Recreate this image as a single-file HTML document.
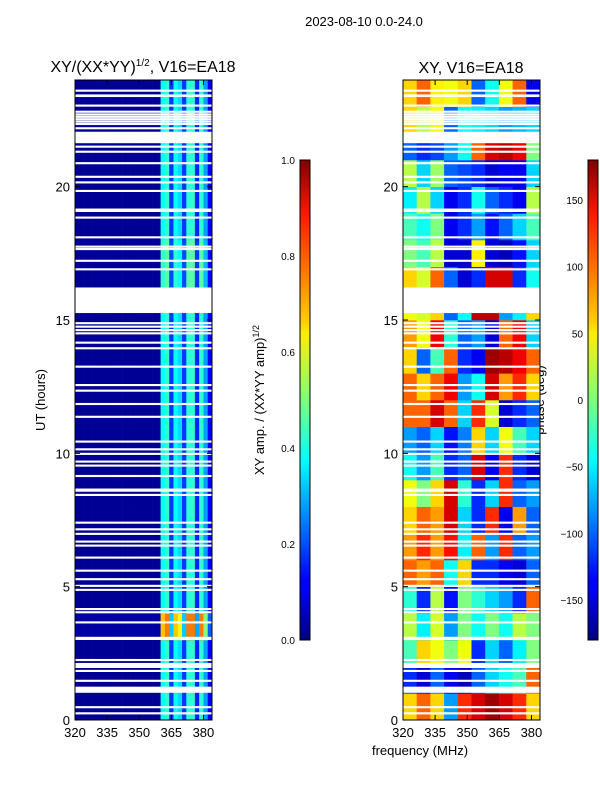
<!DOCTYPE html>
<html><head><meta charset="utf-8"><style>
body{margin:0;background:#fff;}
svg text{font-family:"Liberation Sans",sans-serif;fill:#000;}
</style></head><body>
<svg id="c" width="600" height="800" xmlns="http://www.w3.org/2000/svg">
<text x="364" y="26" font-size="13" text-anchor="middle">2023-08-10 0.0-24.0</text>
<text x="143" y="72" font-size="16" text-anchor="middle">XY/(XX*YY)<tspan font-size="10" dy="-6">1/2</tspan><tspan dy="6">, V16=EA18</tspan></text>
<text x="471" y="73" font-size="16" text-anchor="middle">XY, V16=EA18</text>
<text transform="translate(45,400) rotate(-90)" font-size="13" text-anchor="middle">UT (hours)</text>
<text transform="translate(264,400) rotate(-90)" font-size="13" text-anchor="middle">XY amp. / (XX*YY amp)<tspan font-size="9" dy="-5">1/2</tspan></text>
<text transform="translate(544,400) rotate(-90)" font-size="13" text-anchor="middle">phase (deg)</text>
<text x="420" y="755" font-size="13" text-anchor="middle">frequency (MHz)</text>
<defs>
<linearGradient id="jet" x1="0" y1="1" x2="0" y2="0">
<stop offset="0" stop-color="#00007f"/><stop offset="0.11" stop-color="#0000ff"/><stop offset="0.125" stop-color="#0000ff"/><stop offset="0.34" stop-color="#00dcff"/><stop offset="0.375" stop-color="#00ffff"/><stop offset="0.5" stop-color="#7dff7a"/><stop offset="0.64" stop-color="#ffee00"/><stop offset="0.66" stop-color="#ffd000"/><stop offset="0.89" stop-color="#ff1500"/><stop offset="1" stop-color="#7f0000"/>
</linearGradient>
</defs>
<g id="amp"></g>
<g id="ph"></g>
<g id="gaps"></g>
<g id="axes"></g>
<rect x="300" y="160" width="10" height="480" fill="url(#jet)" stroke="#000" stroke-width="1"/>
<rect x="588" y="160" width="10" height="480" fill="url(#jet)" stroke="#000" stroke-width="1"/>
</svg>
<script>
const ampColProfile=[0.02,0.02,0.02,0.02,0.02,0.02,0.02,0.02,0.02,0.02,0.02,0.02,0.02,0.02,0.02,0.02,0.02,0.02,0.02,0.02,0.38,0.42,0.18,0.38,0.34,0.18,0.42,0.42,0.16,0.42,0.28,0.12];
const ampHourFactor=[1,1,1,1.8,1,1,1,1,1,1,1,1,1,1,1,1,1.1,1.1,1,1,1,1,1,1];
const phaseGrid=[
[60,100,60,-80,120,150,170,150,120,60],
[-120,-150,-100,-140,-160,-100,-60,-40,-20,100],
[-20,60,40,0,40,-120,-60,-100,-50,0],
[20,-50,30,-80,0,-40,0,-40,20,0],
[-30,-120,20,-130,0,-30,-60,-80,-120,100],
[100,80,100,-40,60,-120,-120,-140,-150,-100],
[80,120,80,130,-50,100,-80,120,-100,-80],
[60,100,80,150,-60,-120,120,-140,80,-100],
[40,0,60,150,-30,-120,-60,120,-100,-80],
[-40,-80,-20,-120,-100,150,-140,120,-120,-150],
[-80,-100,-60,-130,-90,60,-60,40,-20,-60],
[100,100,150,100,-60,120,30,-150,-120,-100],
[100,60,100,140,-80,-40,150,80,120,60],
[60,-100,-20,100,-120,-140,170,160,140,100],
[80,40,140,-30,-100,-80,-150,100,140,-60],
[40,30,60,-100,-40,160,160,-80,-50,60],
[60,30,100,-100,-150,-120,150,150,-120,-40],
[0,-20,20,-150,-150,50,-150,-160,-130,-60],
[-20,-40,0,-140,-120,-80,-130,-100,-60,-20],
[-50,20,-60,-140,-120,-40,-100,-120,-140,20],
[20,-60,10,-100,-110,-120,-150,-140,-140,-60],
[-100,-120,-110,-80,-40,100,150,160,140,0],
[60,20,40,-100,-40,-50,-60,-80,-70,-60],
[60,100,50,40,60,-100,-40,40,100,-140]];
const gapStart=[23.56,23.36,23.0,22.77,22.67,22.58,22.49,22.40,22.31,22.15,21.63,21.46,21.27,20.84,20.33,20.12,19.80,19.05,18.80,18.06,17.71,17.62,17.18,16.86,15.26,14.84,14.71,14.58,14.46,14.11,13.90,13.21,12.52,12.31,11.81,11.33,10.40,10.11,9.94,9.65,9.50,9.11,8.56,8.40,7.36,7.11,6.94,6.65,6.50,6.05,5.56,5.24,4.99,4.84,4.12,4.0,3.62,3.0,2.21,1.95,1.80,1.43,1.02,0.44,0.21];
const gapEnd=[23.64,23.46,23.08,22.85,22.75,22.66,22.57,22.48,22.39,22.23,22.06,21.54,21.35,20.92,20.41,20.20,19.88,19.18,18.88,18.14,17.79,17.70,17.26,16.94,16.22,14.92,14.79,14.66,14.54,14.19,13.98,13.29,12.60,12.39,11.89,11.41,10.48,10.19,10.02,9.73,9.58,9.19,8.68,8.48,7.44,7.19,7.02,6.73,6.58,6.13,5.64,5.32,5.07,4.92,4.20,4.08,3.70,3.12,2.29,2.14,1.88,1.51,1.25,0.52,0.29];
const yTicks=[0,5,10,15,20];
const xTicks=[320,335,350,365,380];
const ampTicks=[0.0,0.2,0.4,0.6,0.8,1.0];
const phTicks=[-150,-100,-50,0,50,100,150];

const NS='http://www.w3.org/2000/svg';
const Y0=720,Y1=80,FMIN=320,FMAX=384;
function yScale(h){return Y0-(h/24)*(Y0-Y1);}
function xScale(f,left){return left+(f-FMIN)/(FMAX-FMIN)*137;}
function jet(v){v=Math.max(0,Math.min(1,v));
 const r=Math.max(0,Math.min(1,1.5-Math.abs(4*v-3)));
 const g=Math.max(0,Math.min(1,1.5-Math.abs(4*v-2)));
 const b=Math.max(0,Math.min(1,1.5-Math.abs(4*v-1)));
 return `rgb(${Math.round(r*255)},${Math.round(g*255)},${Math.round(b*255)})`;}
function mk(tag,attrs,parent){const e=document.createElementNS(NS,tag);for(const k in attrs)e.setAttribute(k,attrs[k]);parent.appendChild(e);return e;}
const gA=document.getElementById('amp'),gP=document.getElementById('ph'),gG=document.getElementById('gaps'),gX=document.getElementById('axes');
const chW=(FMAX-FMIN)/ampColProfile.length;
for(let r=0;r<ampHourFactor.length;r++){
 for(let c=0;c<ampColProfile.length;c++){
  const x0=xScale(FMIN+c*chW,75),x1=xScale(FMIN+(c+1)*chW,75);
  const e=mk('rect',{x:x0,y:yScale(r+1),width:x1-x0+0.3,height:yScale(r)-yScale(r+1)+0.3,fill:jet(Math.min(1,ampColProfile[c]*ampHourFactor[r]))},gA);
  
  
 }}
const pW=(FMAX-FMIN)/phaseGrid[0].length;
for(let r=0;r<phaseGrid.length;r++){
 for(let c=0;c<phaseGrid[r].length;c++){
  const x0=xScale(FMIN+c*pW,403),x1=xScale(FMIN+(c+1)*pW,403);
  const e=mk('rect',{x:x0,y:yScale(r+1),width:x1-x0+0.3,height:yScale(r)-yScale(r+1)+0.3,fill:jet((phaseGrid[r][c]+180)/360)},gP);
  
  
 }}
for(let i=0;i<gapStart.length;i++){
 for(const L of [75,403]){
  const e=mk('rect',{x:L,y:yScale(gapEnd[i]),width:137,height:yScale(gapStart[i])-yScale(gapEnd[i]),fill:'#fff'},gG);
  
  
 }}
for(const L of [75,403]){
 const f=mk('rect',{x:L,y:Y1,width:137,height:Y0-Y1,fill:'none',stroke:'#000','stroke-width':1},gX);
 
 
 for(const t of yTicks){const y=yScale(t);
  mk('line',{x1:L,x2:L+5,y1:y,y2:y,stroke:'#000'},gX);
  mk('line',{x1:L+137,x2:L+132,y1:y,y2:y,stroke:'#000'},gX);
  const tx=mk('text',{x:L-5,y:y+5,'font-size':13,'text-anchor':'end'},gX);tx.textContent=t;
  
  }
 for(const t of xTicks){const x=xScale(t,L);
  mk('line',{x1:x,x2:x,y1:Y0,y2:Y0-5,stroke:'#000'},gX);
  mk('line',{x1:x,x2:x,y1:Y1,y2:Y1+5,stroke:'#000'},gX);
  const tx=mk('text',{x:x,y:Y0+17,'font-size':13,'text-anchor':'middle'},gX);tx.textContent=t;
  
  }
}
for(const t of ampTicks){const y=640-t*480;
 mk('line',{x1:300,x2:304,y1:y,y2:y,stroke:'#000'},gX);
 const tx=mk('text',{x:295,y:y+4,'font-size':10,'text-anchor':'end'},gX);tx.textContent=t.toFixed(1);
 
 }
for(const t of phTicks){const y=400-t*480/360;
 mk('line',{x1:588,x2:592,y1:y,y2:y,stroke:'#000'},gX);
 const tx=mk('text',{x:583,y:y+4,'font-size':10,'text-anchor':'end'},gX);tx.textContent=t<0?'\u2212'+(-t):t;
 
 }
</script>
</body></html>
